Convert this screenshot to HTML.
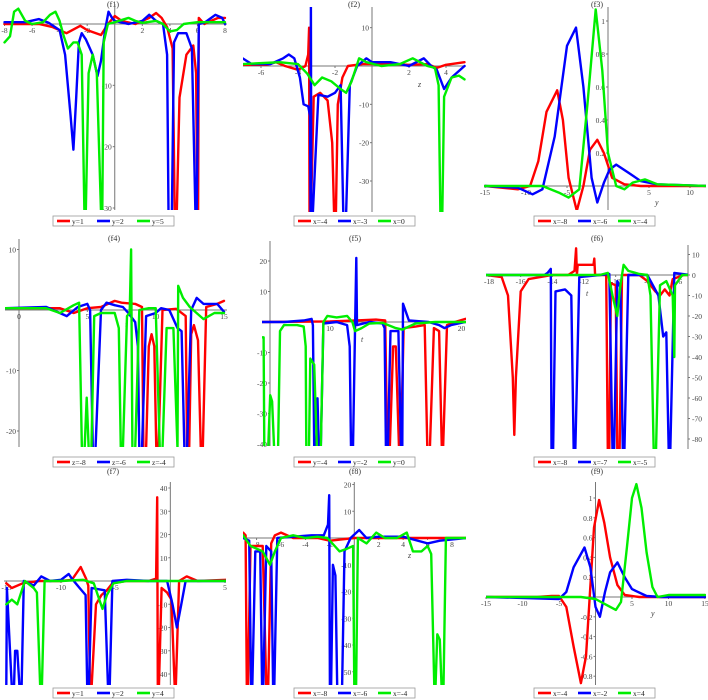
<!DOCTYPE html>
<html><head><meta charset="utf-8"><style>
html,body{margin:0;padding:0;background:#fff;width:708px;height:700px;overflow:hidden;}
svg{display:block;font-family:"Liberation Serif",serif;overflow:hidden;}
</style></head><body>
<svg id="root" width="708" height="700" viewBox="0 0 708 700" xmlns="http://www.w3.org/2000/svg"></svg>
<script>
// ---------- data ----------
const f1_red=[[-8,0],[-5.5,0],[-4.5,-0.5],[-3.5,-1.5],[-2.5,-0.3],[-2,-1],[-1,-1.8],[-0.5,0],[0,1.3],[0.5,0.5],[1.5,0],[2.5,1],[3,1.8],[3.4,1],[3.8,-0.5],[4.2,-4],[4.35,-50],[4.5,-50],[4.7,-12],[5.2,-5],[5.7,-3.5],[5.9,-8],[6.0,-50],[6.05,-50],[6.1,1],[6.5,0],[7,0.5],[7.5,1],[8,1]];
const f1_blue=[[-8,0.3],[-6.5,0.3],[-5.5,0.8],[-4.8,0.2],[-4,-1],[-3.6,-5],[-3.2,-15],[-3,-20.5],[-2.8,-12],[-2.6,-3],[-2.4,-1.5],[-2.1,-2.5],[-1.6,-5],[-1.25,-8.5],[-1,-6],[-0.7,-1],[-0.45,2],[-0.2,1],[0,0.5],[1,0],[2,0.5],[2.5,1.5],[3,0.5],[3.5,0],[3.8,-5],[3.9,-50],[4.15,-50],[4.3,-3],[4.6,-1.5],[5.2,-1.5],[5.6,-4],[5.85,-50],[5.95,-50],[6.1,0],[6.5,0.2],[7,1],[7.3,1.5],[7.8,1],[8,0]];
const f1_green=[[-8,-3],[-7.6,-2],[-7.3,2],[-7,2.5],[-6.5,0.5],[-6,0],[-5.2,0.3],[-4.7,1.5],[-4.3,2],[-4,0.5],[-3.7,-2],[-3.4,-4],[-3,-3],[-2.7,-3],[-2.4,-5],[-2.2,-50],[-2.1,-50],[-1.9,-8],[-1.6,-5],[-1.3,-8],[-1.0,-50],[-0.9,-50],[-0.8,-3],[-0.5,0],[0,0.3],[1,1],[1.5,0.5],[2,0.2],[3,0.5],[3.5,0],[4,-1.2],[4.5,-1],[5,0],[6,0.3],[8,0.3]];
const f1_names=["y=1","y=2","y=5"];

const f2_red=[[-7,0.3],[-5.7,0.3],[-5.2,1],[-4.7,0],[-4,-1],[-3.6,0],[-3.45,3],[-3.4,10],[-3.38,-50],[-3.3,-50],[-3.15,-8],[-2.8,-7],[-2.4,-9],[-2.15,-20],[-2.05,-50],[-1.95,-50],[-1.85,-10],[-1.6,-3],[-1.3,0],[-0.5,0.5],[0,0.5],[1,0.5],[2,0.3],[3,0.5],[3.5,-0.5],[4,0.3],[5,1]];
const f2_blue=[[-7,2],[-6.5,0.5],[-5.5,0.5],[-4.8,2],[-4.5,3],[-4.2,2],[-3.9,-3],[-3.7,-10],[-3.45,-10.5],[-3.35,-13],[-3.32,-50],[-3.3,16],[-3.28,-50],[-3.2,-50],[-2.9,-7.5],[-2.4,-8],[-2,-7],[-1.7,-5],[-1.55,-50],[-1.4,-50],[-1.2,-5],[-0.8,0],[-0.3,2],[0,1],[1,1],[2,0],[2.8,2],[3.2,0],[3.5,-1],[3.9,-6],[4.3,-3],[5,0]];
const f2_green=[[-7,0.5],[-5,1],[-4,0.5],[-3.5,-2],[-3.1,-5],[-2.7,-3],[-2.2,-4],[-1.7,-6],[-1.4,-7],[-1.1,-4],[-0.7,2],[-0.3,1],[0.5,0],[1.5,0.5],[2.2,2],[2.6,1],[3,0],[3.4,-0.5],[3.6,-5],[3.7,-50],[3.8,-50],[3.9,-8],[4.3,-3],[4.7,-2.5],[5,-3.5]];
const f2_names=["x=-4","x=-3","x=0"];

const f3_red=[[-15,0],[-11,-0.02],[-9.5,0],[-8.5,0.15],[-7.5,0.45],[-6.2,0.58],[-5.5,0.4],[-4.8,0.05],[-3.8,-0.15],[-3,0.0],[-2.2,0.22],[-1.3,0.28],[-0.5,0.2],[0.5,0.05],[2,0.01],[4,0.0],[12.5,0]];
const f3_blue=[[-15,0],[-11,-0.01],[-9.2,-0.05],[-8,-0.02],[-6.5,0.3],[-5,0.85],[-3.9,0.96],[-3,0.6],[-2,0.05],[-1.3,-0.1],[-0.5,0.02],[0.2,0.1],[1,0.13],[2.5,0.08],[4,0.03],[6,0.01],[12.5,0]];
const f3_green=[[-15,0],[-8,0],[-6,-0.04],[-4.8,-0.07],[-3.5,-0.02],[-2.5,0.5],[-1.5,1.07],[-0.7,0.7],[0,0.2],[1,0.0],[2,-0.02],[3,0.02],[4.5,0.04],[6,0.01],[12.5,0]];
const f3_names=["x=-8","x=-6","x=-4"];

const f4_red=[[-1,0.3],[3,0.3],[4,-0.5],[5,0.3],[6,0.5],[7,1.5],[7.5,1.2],[8.5,1],[9,0.5],[9.1,-50],[9.3,-50],[9.5,-6],[9.7,-4],[9.9,-6],[10.05,-50],[10.2,-50],[10.5,0],[11.5,0.2],[12.2,-1],[12.3,-50],[12.45,-50],[12.6,-4],[12.8,-2.5],[13.1,-5],[13.3,-50],[13.45,-50],[13.7,0.5],[14.5,1],[15,1.5]];
const f4_blue=[[-1,0.3],[2,0.5],[3.5,-1],[4.3,0.5],[5,1],[5.2,0],[5.4,-50],[5.6,-50],[6,0],[6.4,1.2],[7,0.8],[7.6,0.5],[8,-0.5],[8.5,-2],[8.7,-6],[8.8,-50],[9.0,-50],[9.3,-1],[10,-0.5],[10.4,0.3],[11,0],[11.6,-3],[11.9,-3.5],[12.1,-50],[12.3,-50],[12.6,0],[13,2],[13.5,1],[14.5,1],[15,-0.3]];
const f4_green=[[-1,0.3],[2,0.3],[3,-0.5],[4,0.8],[4.4,1.2],[4.6,-50],[4.8,-50],[4.95,-14.5],[5.1,-50],[5.3,-50],[5.5,-1],[6,-0.5],[7,-0.5],[7.3,-3],[7.45,-50],[7.6,-50],[7.9,-1],[8.1,-0.5],[8.2,10],[8.3,-50],[8.5,-50],[8.8,0],[9.5,0.3],[10,0.3],[10.3,-50],[10.5,-50],[10.8,-3],[11.3,-3],[11.6,-50],[11.65,4],[12,2],[12.5,0.5],[13.5,-1.5],[14.3,-0.5],[15,-0.5]];
const f4_names=["z=-8","z=-6","z=-4"];

const f5_red=[[4.8,0],[10,0.2],[12,0.5],[13.5,0.8],[14.2,0.5],[14.35,-50],[14.55,-50],[14.8,-8],[15.0,-8],[15.25,-50],[15.4,-50],[15.6,-2],[16.5,-1.5],[17.2,-1],[17.4,-50],[17.6,-50],[17.9,-2],[18.3,-3],[18.5,-50],[18.6,-50],[18.9,-1],[19.5,0],[20.3,1]];
const f5_blue=[[4.8,0],[6.5,0],[8,0.5],[8.6,1],[8.7,-1],[8.8,-50],[8.95,-50],[9.05,-25],[9.15,-50],[9.3,-50],[9.5,-0.5],[10.5,0],[11.3,-1],[11.5,-8],[11.6,-50],[11.75,-50],[11.9,-3],[12.0,21],[12.05,-1],[13,0],[14,-0.5],[14.15,-2],[14.25,-50],[14.4,-50],[14.6,-3],[15.2,-3],[15.4,-50],[15.5,-50],[15.55,6],[16,0.5],[17.5,0],[18.3,-1],[18.7,-2],[19.2,-1],[20.3,0]];
const f5_green=[[4.8,-5],[4.95,-5],[5.0,-50],[5.3,-50],[5.45,-24],[5.6,-26],[5.75,-50],[6.05,-50],[6.2,-3],[6.5,-1],[7.5,-1],[8,-1.5],[8.15,-8],[8.2,-50],[8.4,-50],[8.5,-12],[8.8,-14],[9.0,-50],[9.3,-50],[9.5,0],[9.8,2],[10.5,1.5],[11.3,2],[11.7,0],[11.9,-3],[12.4,-2],[13,-0.5],[14,-0.3],[15,-2],[15.5,-2.5],[16.5,-0.5],[18,0],[20.3,0]];
const f5_names=["y=-4","y=-2","y=0"];

const f6_red=[[-18.2,0],[-17.2,-1],[-16.8,-10],[-16.5,-50],[-16.4,-78],[-16.3,-50],[-16,-8],[-15.5,-2],[-14,0],[-13,0],[-12.6,2],[-12.5,13],[-12.45,0],[-12.4,5],[-11.8,5],[-11.4,5],[-11.35,8],[-11.3,0],[-10.6,0],[-10.5,-100],[-10.4,-100],[-10.3,-4],[-10.0,-5],[-9.9,-100],[-9.75,-100],[-9.6,0],[-8.5,0],[-8,-3],[-7.5,-8],[-7.2,-10],[-6.9,-7],[-6.6,-10],[-6.4,-2],[-5.7,0],[-5,0]];
const f6_blue=[[-18.2,0],[-14.5,0],[-14.3,1],[-14.1,3],[-14.05,-100],[-13.95,-100],[-13.8,-8],[-13.2,-7],[-12.8,-10],[-12.65,-100],[-12.55,-100],[-12.3,-1],[-11,0],[-10.4,0.5],[-10.2,-100],[-10.1,-100],[-9.9,-3],[-9.7,-6],[-9.55,-100],[-9.45,-100],[-9.2,0],[-8,0],[-7.3,-10],[-7.0,-30],[-6.8,-28],[-6.65,-100],[-6.55,-100],[-6.3,1],[-5,0]];
const f6_green=[[-18.2,0],[-11,0],[-10.5,1],[-10.2,-10],[-9.9,-20],[-9.7,-5],[-9.5,5],[-9.2,2],[-8.5,0.5],[-8,0],[-7.8,-10],[-7.6,-100],[-7.45,-100],[-7.2,-5],[-6.8,-3],[-6.4,-10],[-6.3,-40],[-6.25,-5],[-5.8,0],[-5,0]];
const f6_names=["x=-8","x=-7","x=-5"];

const f7_red=[[-15,-1],[-14.5,-3],[-13.5,-1],[-12,0],[-10,0],[-9,0.5],[-8.2,6],[-7.7,1],[-7.5,-2],[-7.35,-100],[-7.2,-100],[-6.8,-10],[-6.3,-6],[-5.8,-4],[-5.3,-1],[-4,0],[-2,0],[-1.3,1],[-1.2,36],[-1.15,-100],[-1.05,-100],[-0.8,-3],[-0.3,-5],[0.1,-8],[0.4,-100],[0.5,-100],[0.8,0],[1.5,2],[2.5,0],[5.2,0.5]];
const f7_blue=[[-15,-100],[-14.95,-3],[-14.5,-100],[-14.3,-100],[-14.2,-30],[-14.0,-30],[-13.8,-100],[-13.6,-100],[-13.4,0],[-12.5,-2],[-11.8,2],[-11,0],[-10,0.5],[-9.3,3],[-9,1],[-8.3,-3],[-7.75,-6],[-7.6,-100],[-7.45,-100],[-7.2,-3],[-6,-4],[-5.7,-100],[-5.55,-100],[-5.3,0],[-4,0.5],[-2,0],[-0.3,0],[0.2,-10],[0.6,-20],[1,-10],[1.4,0],[3,0],[5.2,0]];
const f7_green=[[-15,-10],[-14.5,-8],[-14,-10],[-13.3,0],[-12.5,-3],[-12.2,-5],[-11.9,-100],[-11.75,-100],[-11.5,0],[-10,0],[-8,0.5],[-7,-1],[-6.5,-8],[-6.2,-12],[-5.8,-6],[-5.2,-1],[-4,0],[5.2,0]];
const f7_names=["y=1","y=2","y=4"];

const f8_red=[[-9.1,2],[-8.9,1],[-8.8,-100],[-8.7,-100],[-8.5,-3],[-7.5,-3],[-7.2,-100],[-7.05,-100],[-6.8,-2],[-6.5,1],[-6,2],[-5,0],[-3,0],[-2,-1],[0,0],[2,0],[9.2,0]];
const f8_blue=[[-9.1,0],[-8.6,-1],[-8.45,-100],[-8.35,-100],[-8.1,-5],[-7.7,-5],[-7.55,-100],[-7.45,-100],[-7.2,-3],[-6.8,-5],[-6.65,-100],[-6.55,-100],[-6.3,0],[-5,0.5],[-3.5,1],[-2.5,1],[-2.15,5],[-2.05,16],[-2.0,-100],[-1.9,-100],[-1.75,-10],[-1.55,-14],[-1.4,-100],[-1.0,-100],[-0.8,-5],[-0.3,0],[0.4,3],[1,0],[2,0.5],[4,0.5],[6,-2],[7,-1],[9.2,0]];
const f8_green=[[-9.1,1],[-8.5,-3],[-7.5,-5],[-6.9,-10],[-6.5,-5],[-6,0],[-5,1],[-4,0],[-3,0.5],[-2.2,0],[-1.6,-3],[-1.2,-5],[-0.6,-4],[-0.1,-3],[0.0,-100],[0.15,-100],[0.3,0],[1,-2],[1.8,2],[2.5,0],[3.5,0],[4.3,2],[4.8,-5],[5.5,-5],[6,-3],[6.3,-6],[6.55,-100],[6.65,-100],[6.8,-36],[7.0,-38],[7.15,-100],[7.3,-100],[7.5,0],[9.2,0]];
const f8_names=["x=-8","x=-6","x=-4"];

const f9_red=[[-15,0],[-8,0],[-6,0.01],[-5,0.01],[-4,-0.1],[-3,-0.5],[-2,-0.87],[-1.3,-0.6],[-0.8,0],[-0.2,0.7],[0.5,0.98],[1.2,0.75],[2,0.4],[3,0.12],[4,0.02],[6,0],[15,0]];
const f9_blue=[[-15,0],[-5,-0.02],[-4,0.05],[-3,0.3],[-1.5,0.5],[-0.7,0.3],[0,-0.1],[0.6,-0.2],[1.3,0.05],[2,0.25],[3,0.35],[4,0.2],[5,0.08],[7,0.01],[9,0],[15,0]];
const f9_green=[[-15,0],[-2,0],[0,-0.02],[1.5,-0.08],[2.8,-0.13],[3.5,-0.05],[4.3,0.5],[5,1],[5.6,1.14],[6.3,0.9],[7,0.45],[7.8,0.1],[8.5,0],[10,0.02],[15,0.02]];
const f9_names=["x=-4","x=-2","x=4"];

const f1_xticks=[-8,-6,-4,-2,2,4,6,8], f1_yticks=[-10,-20,-30];
const f2_xticks=[-6,-4,-2,2,4], f2_yticks=[10,-10,-20,-30];
const f3_xticks=[-15,-10,-5,5,10], f3_yticks=[0.2,0.4,0.6,0.8,1];
const f4_xticks=[0,5,10,15], f4_yticks=[10,-10,-20];
const f5_xticks=[10,20], f5_yticks=[20,10,-10,-20,-30,-40];
const f6_xticks=[-18,-16,-14,-12,-10,-8,-6], f6_yticks=[10,0,-10,-20,-30,-40,-50,-60,-70,-80];
const f7_xticks=[-15,-10,-5,5], f7_yticks=[40,30,20,10,-10,-20,-30,-40];
const f8_xticks=[-8,-6,-4,-2,2,4,6,8], f8_yticks=[20,10,-10,-20,-30,-40,-50];
const f9_xticks=[-15,-10,-5,5,10,15], f9_yticks=[-0.8,-0.6,-0.4,-0.2,0.2,0.4,0.6,0.8,1];

// ---------- rendering ----------
const NS="http://www.w3.org/2000/svg";
const root=document.getElementById('root');
const COLORS=["#ff0000","#0000ff","#00ee00"];
function mk(tag,attrs,parent){const e=document.createElementNS(NS,tag);for(const k in attrs)e.setAttribute(k,attrs[k]);(parent||root).appendChild(e);return e;}

function panel(c){
  const g=mk('g',{});
  
  
  const sx=v=>c.xs[1]+(v-c.xs[0])*(c.xs[3]-c.xs[1])/(c.xs[2]-c.xs[0]);
  const sy=v=>c.ys[1]+(v-c.ys[0])*(c.ys[3]-c.ys[1])/(c.ys[2]-c.ys[0]);
  const [cx,cy,cw,ch]=c.clip;
  const clampY=y=>Math.max(cy-2,Math.min(cy+ch+2,y));
  const clampX=x=>Math.max(cx-2,Math.min(cx+cw+2,x));
  const cp=mk('clipPath',{id:'clip-'+c.id},g);
  mk('rect',{x:cx,y:cy,width:cw,height:ch},cp);
  const t=mk('text',{x:c.tx,y:c.ty,'font-size':8,'text-anchor':'middle',fill:'#333'},g);
  t.textContent='('+c.id+')';
  
  
  const ax0=sy(0);
  const xa=mk('line',{x1:cx,x2:cx+cw,y1:ax0,y2:ax0,stroke:'#777','stroke-width':1},g);
  
  
  const yx=c.yaxisPx!==undefined?c.yaxisPx:sx(c.yaxisAt||0);
  const ya=mk('line',{x1:yx,x2:yx,y1:cy,y2:cy+ch,stroke:'#777','stroke-width':1},g);
  
  
  c.xt.forEach(v=>{
    const x=sx(v);
    mk('line',{x1:x,x2:x,y1:ax0,y2:ax0+2,stroke:'#777'},g);
    const l=mk('text',{x:x,y:ax0+9,'font-size':7.5,'text-anchor':'middle',fill:'#444'},g);
    l.textContent=v;
    
    
  });
  c.yt.forEach(v=>{
    const y=sy(v);
    const right=c.labelsRight;
    mk('line',{x1:yx,x2:right?yx+2:yx-2,y1:y,y2:y,stroke:'#777'},g);
    const l=mk('text',{x:right?yx+4:yx-3,y:y+3,'font-size':7.5,'text-anchor':right?'start':'end',fill:'#444'},g);
    l.textContent=v;
    
    
  });
  if(c.xlabel){
    const l=mk('text',{x:c.xlabel[1],y:c.xlabel[2],'font-size':8,'font-style':'italic',fill:'#444'},g);
    l.textContent=c.xlabel[0];
    
    
  }
  const sg=mk('g',{'clip-path':'url(#clip-'+c.id+')'},g);
  c.series.forEach((s,i)=>{
    const pts=s.map(p=>clampX(sx(p[0])).toFixed(1)+','+clampY(sy(p[1])).toFixed(1)).join(' ');
    const pl=mk('polyline',{points:pts,fill:'none',stroke:COLORS[i],'stroke-width':2.4,'stroke-linejoin':'round','stroke-linecap':'round'},sg);
    
    
  });
  const [lx,ly]=c.leg;
  const lg=mk('g',{},g);
  
  
  mk('rect',{x:lx,y:ly,width:121,height:10,fill:'#fff',stroke:'#999','stroke-width':0.8},lg);
  c.names.forEach((n,i)=>{
    const ex=lx+4+i*40;
    const e=mk('g',{},lg);
    
    
    mk('line',{x1:ex,x2:ex+13,y1:ly+5,y2:ly+5,stroke:COLORS[i],'stroke-width':2.6},e);
    const tt=mk('text',{x:ex+15,y:ly+8,'font-size':7.5,fill:'#222'},e);
    tt.textContent=n;
  });
}

panel({id:'f1',xs:[-8,4.5,8,225],ys:[0,24,-30,208],clip:[3,4,224,206],tx:113,ty:7,xt:f1_xticks,yt:f1_yticks,series:[f1_red,f1_blue,f1_green],names:f1_names,leg:[53,216]});
panel({id:'f2',xs:[-6,261,2,409],ys:[0,66,-30,181],clip:[243,7,223,205],tx:354,ty:7,xt:f2_xticks,yt:f2_yticks,series:[f2_red,f2_blue,f2_green],names:f2_names,leg:[294,216],xlabel:['z',418,87]});
panel({id:'f3',xs:[-15,485,10,690],ys:[0,186,1,21],clip:[484,7,222,203],tx:597,ty:7,xt:f3_xticks,yt:f3_yticks,series:[f3_red,f3_blue,f3_green],names:f3_names,leg:[534,216],xlabel:['y',655,205]});
panel({id:'f4',xs:[0,19,15,224],ys:[0,310,-20,431],clip:[5,239,222,208],tx:114,ty:241,xt:f4_xticks,yt:f4_yticks,series:[f4_red,f4_blue,f4_green],names:f4_names,leg:[53,457],xlabel:['t',125,327]});
panel({id:'f5',xs:[10,330,20,461.5],ys:[0,322,-40,444],clip:[262,241,204,205],tx:355,ty:241,xt:f5_xticks,yt:f5_yticks,series:[f5_red,f5_blue,f5_green],names:f5_names,leg:[294,457],yaxisPx:270,xlabel:['t',361,342]});
panel({id:'f6',xs:[-18,489,-6,679],ys:[0,275,-80,439],clip:[486,245,202,204],tx:597,ty:241,xt:f6_xticks,yt:f6_yticks,series:[f6_red,f6_blue,f6_green],names:f6_names,leg:[534,457],yaxisPx:688,labelsRight:true,xlabel:['t',586,296]});
panel({id:'f7',xs:[-10,61,5,225],ys:[0,581,-40,674],clip:[4,482,222,203],tx:113,ty:474,xt:f7_xticks,yt:f7_yticks,series:[f7_red,f7_blue,f7_green],names:f7_names,leg:[53,688]});
panel({id:'f8',xs:[-6,281,8,452],ys:[0,538,-40,645],clip:[243,482,223,203],tx:355,ty:474,xt:f8_xticks,yt:f8_yticks,series:[f8_red,f8_blue,f8_green],names:f8_names,leg:[294,688],xlabel:['z',408,558]});
panel({id:'f9',xs:[-15,486,15,705],ys:[0,597,1,498],clip:[486,482,220,203],tx:597,ty:474,xt:f9_xticks,yt:f9_yticks,series:[f9_red,f9_blue,f9_green],names:f9_names,leg:[534,688],xlabel:['y',651,616]});
</script>
</body></html>
